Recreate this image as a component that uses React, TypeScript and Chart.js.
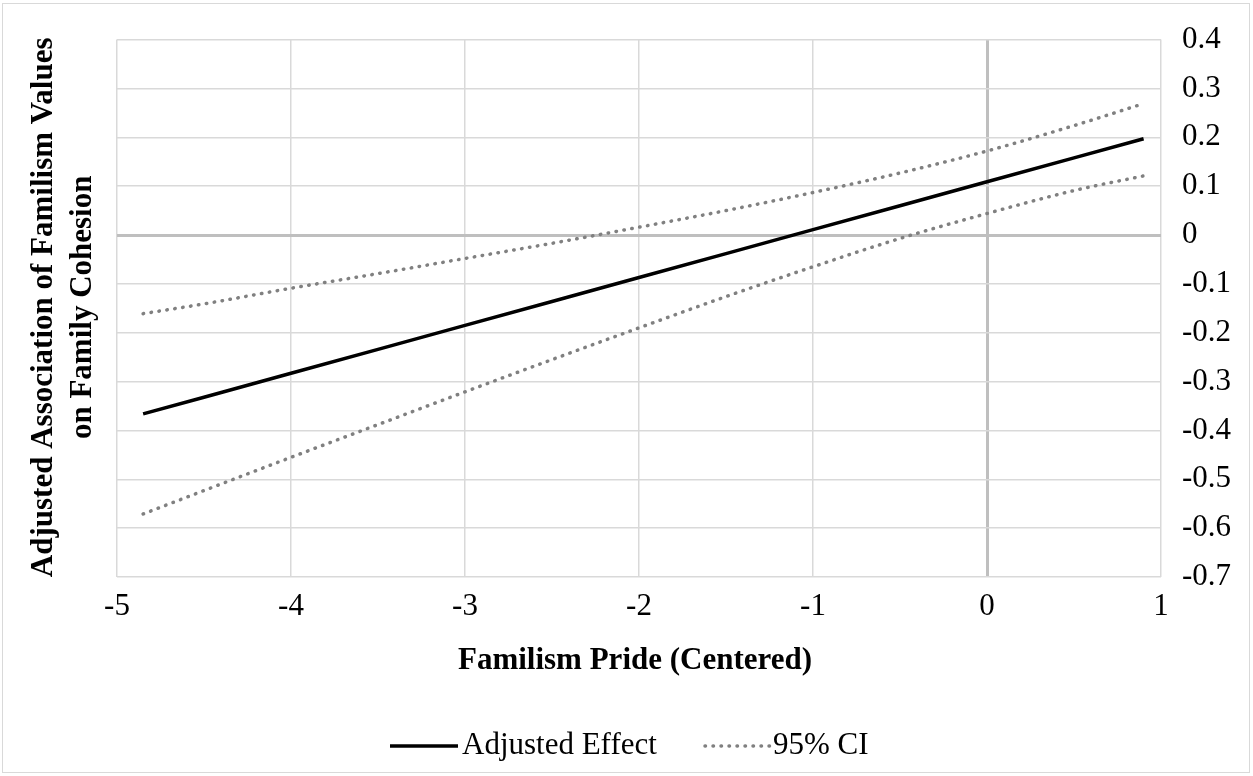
import React, { useEffect, useRef } from "react";
import { Chart, registerables } from "chart.js";

Chart.register(...registerables);

// ---- data ----
const xValues = [-4.85, -4.5, -4, -3.5, -3, -2.5, -2, -1.5, -1, -0.5, 0, 0.5, 0.9];
const adjustedEffect = [-0.366, -0.332, -0.283, -0.234, -0.185, -0.136, -0.087, -0.038, 0.011, 0.06, 0.109, 0.158, 0.197];
const ciUpper = [-0.161, -0.141, -0.109, -0.079, -0.048, -0.017, 0.016, 0.05, 0.087, 0.127, 0.172, 0.224, 0.269];
const ciLower = [-0.571, -0.523, -0.455, -0.388, -0.321, -0.255, -0.19, -0.126, -0.065, -0.007, 0.044, 0.091, 0.121];

const xTicks = [-5, -4, -3, -2, -1, 0, 1];
const yTicks = [-0.7, -0.6, -0.5, -0.4, -0.3, -0.2, -0.1, 0, 0.1, 0.2, 0.3, 0.4];
const yTickLabels = ["-0.7", "-0.6", "-0.5", "-0.4", "-0.3", "-0.2", "-0.1", "0", "0.1", "0.2", "0.3", "0.4"];

const yTitleLines = ["Adjusted Association of Familism Values", "on Family Cohesion"];
const xTitle = "Familism Pride (Centered)";
const legendLabels = ["Adjusted Effect", "95% CI"];

const FONT = "'Liberation Serif', 'Times New Roman', serif";
const GRID = "#d9d9d9";
const ZERO = "#bfbfbf";
const CI_COLOR = "#808080";

const toPts = (ys: number[]) => xValues.map((x, i) => ({ x, y: ys[i] }));

const textPlugin = {
  id: "customText",
  afterDraw(chart: any) {
    const ctx = chart.ctx as CanvasRenderingContext2D;
    const area = chart.chartArea;
    ctx.save();
    ctx.fillStyle = "#000";
    // y title (rotated)
    ctx.font = `bold 31px ${FONT}`;
    ctx.textAlign = "center";
    ctx.textBaseline = "middle";
    const cy = (area.top + area.bottom) / 2 - 1;
    const xs = [44, 83];
    yTitleLines.forEach((line, i) => {
      ctx.save();
      ctx.translate(xs[i], cy);
      ctx.rotate(-Math.PI / 2);
      ctx.fillText(line, 0, 0);
      ctx.restore();
    });
    // x title
    ctx.fillText(xTitle, 635, 661);

    // legend
    const ly = 746;
    ctx.font = `31px ${FONT}`;
    ctx.textAlign = "left";
    ctx.strokeStyle = "#000";
    ctx.lineWidth = 3.5;
    ctx.beginPath();
    ctx.moveTo(390, ly);
    ctx.lineTo(458, ly);
    ctx.stroke();
    ctx.fillText(legendLabels[0], 462, ly);

    ctx.strokeStyle = CI_COLOR;
    ctx.lineWidth = 3.5;
    ctx.lineCap = "round";
    ctx.setLineDash([0.5, 7.5]);
    ctx.beginPath();
    ctx.moveTo(705, ly);
    ctx.lineTo(770, ly);
    ctx.stroke();
    ctx.setLineDash([]);
    ctx.fillText(legendLabels[1], 773, ly);
    ctx.restore();
  },
};

export default function App() {
  const ref = useRef<HTMLCanvasElement | null>(null);

  useEffect(() => {
    if (!ref.current) return;
    const isZero = (ctx: any) => ctx.tick && Math.abs(ctx.tick.value) < 1e-9;
    const ciStyle = {
      borderColor: CI_COLOR,
      borderWidth: 3.5,
      borderDash: [0.5, 7.5],
      borderCapStyle: "round",
      cubicInterpolationMode: "monotone",
      pointRadius: 0,
      fill: false,
    };
    const chart = new Chart(ref.current, {
      type: "line",
      data: {
        datasets: [
          {
            label: legendLabels[0],
            data: toPts(adjustedEffect),
            borderColor: "#000",
            borderWidth: 3.5,
            pointRadius: 0,
            fill: false,
          },
          { label: legendLabels[1], data: toPts(ciUpper), ...ciStyle },
          { label: legendLabels[1], data: toPts(ciLower), ...ciStyle },
        ],
      },
      options: {
        animation: false,
        responsive: false,
        devicePixelRatio: 1,
        layout: { padding: { left: 117, top: 35, right: 0, bottom: 0 } },
        plugins: {
          legend: { display: false },
          tooltip: { enabled: false },
          title: { display: false },
        },
        scales: {
          x: {
            type: "linear",
            position: "bottom",
            min: -5,
            max: 1,
            afterBuildTicks: (s: any) => {
              s.ticks = xTicks.map((v) => ({ value: v }));
            },
            afterFit: (s: any) => {
              s.height = 199;
            },
            grid: {
              drawTicks: false,
              color: (c: any) => (isZero(c) ? ZERO : GRID),
              lineWidth: (c: any) => (isZero(c) ? 3 : 1.5),
            },
            border: { display: false },
            ticks: {
              padding: 11,
              color: "#000",
              font: { family: FONT, size: 31 },
              maxRotation: 0,
              callback: (v: any) => String(v),
            },
          },
          y: {
            type: "linear",
            position: "right",
            min: -0.7,
            max: 0.4,
            afterBuildTicks: (s: any) => {
              s.ticks = yTicks.map((v) => ({ value: v }));
            },
            afterFit: (s: any) => {
              s.width = 92;
            },
            grid: {
              drawTicks: false,
              color: (c: any) => (isZero(c) ? ZERO : GRID),
              lineWidth: (c: any) => (isZero(c) ? 3 : 1.5),
            },
            border: { display: false },
            ticks: {
              padding: 21,
              color: "#000",
              font: { family: FONT, size: 31 },
              callback: (_v: any, i: number) => yTickLabels[i],
            },
          },
        },
      },
      plugins: [textPlugin],
    } as any);
    return () => chart.destroy();
  }, []);

  return (
    <div
      style={{
        position: "fixed",
        left: 0,
        top: 0,
        width: 1253,
        height: 776,
        background: "#fff",
      }}
    >
      <div
        style={{
          position: "absolute",
          left: 2,
          top: 3,
          width: 1248,
          height: 770,
          border: "1px solid #d9d9d9",
          boxSizing: "border-box",
          pointerEvents: "none",
        }}
      />
      <canvas ref={ref} width={1253} height={776} style={{ display: "block", position: "absolute", left: 0, top: 0 }} />
    </div>
  );
}
